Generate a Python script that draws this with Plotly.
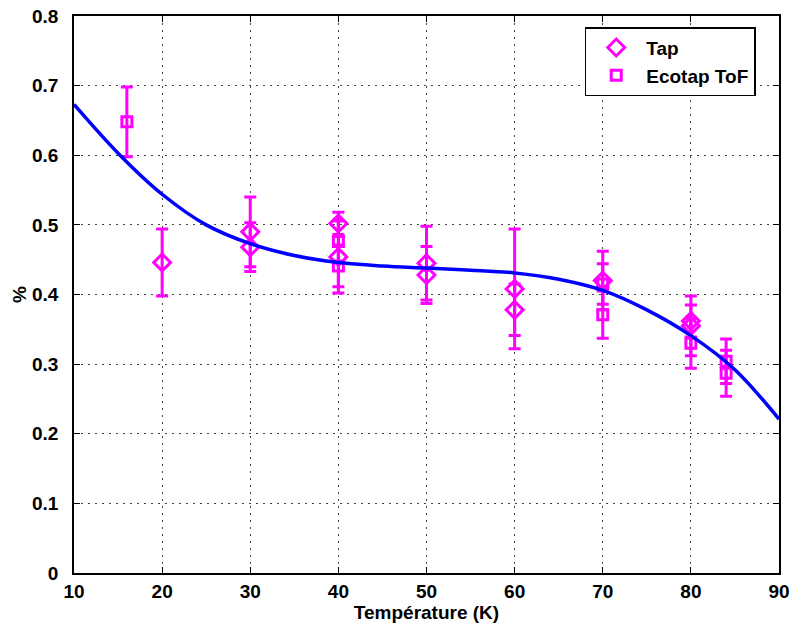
import plotly.graph_objects as go

# Tap (diamonds)
tap_x = [20, 30, 30, 40, 40, 50, 50, 60, 60, 70, 80, 80]
tap_y = [0.446, 0.490, 0.468, 0.502, 0.454, 0.445, 0.428, 0.408, 0.378, 0.420, 0.362, 0.355]
tap_err = [0.048, 0.050, 0.035, 0.016, 0.052, 0.053, 0.041, 0.086, 0.037, 0.042, 0.023, 0.043]

# Ecotap ToF (squares)
eco_x = [16, 40, 40, 70, 70, 80, 84, 84]
eco_y = [0.648, 0.476, 0.441, 0.415, 0.371, 0.330, 0.304, 0.287]
eco_err = [0.050, 0.030, 0.030, 0.029, 0.034, 0.036, 0.032, 0.033]

# fitted curve
fit_x = [10, 15, 20, 25, 30, 35, 40, 45, 50, 55, 60, 65, 70, 75, 80, 85, 90]
fit_y = [0.673, 0.603, 0.544, 0.500, 0.473, 0.456, 0.446, 0.441, 0.438, 0.435, 0.431, 0.422, 0.406, 0.378, 0.341, 0.292, 0.221]

x_ticks = [10, 20, 30, 40, 50, 60, 70, 80, 90]
y_ticks = [0, 0.1, 0.2, 0.3, 0.4, 0.5, 0.6, 0.7, 0.8]
y_labels = ["0", "0.1", "0.2", "0.3", "0.4", "0.5", "0.6", "0.7", "0.8"]

MAG = "#FF00FF"
TICKFONT = dict(family="Liberation Sans", size=19, color="black", weight="bold")
TITLEFONT = dict(family="Liberation Sans", size=19, color="black", weight="bold")

fig = go.Figure()
fig.add_trace(go.Scatter(
    x=tap_x, y=tap_y, mode="markers", name="Tap",
    marker=dict(symbol="diamond-open", size=13, color=MAG, line=dict(width=3, color=MAG)),
    error_y=dict(type="data", array=tap_err, color=MAG, thickness=3, width=6),
))
fig.add_trace(go.Scatter(
    x=eco_x, y=eco_y, mode="markers", name="Ecotap ToF",
    marker=dict(symbol="square-open", size=10, color=MAG, line=dict(width=3, color=MAG)),
    error_y=dict(type="data", array=eco_err, color=MAG, thickness=3, width=6),
))
fig.add_trace(go.Scatter(
    x=fit_x, y=fit_y, mode="lines", showlegend=False,
    line=dict(color="#0000FF", width=3.5, shape="spline", smoothing=1.0),
))

axis_common = dict(
    showline=True, linecolor="black", linewidth=1.5, mirror="allticks",
    ticks="inside", ticklen=6, tickwidth=1, tickcolor="black",
    showgrid=True, gridcolor="#444444", griddash="2px,5px", gridwidth=1,
    zeroline=False, tickfont=TICKFONT, automargin=False,
)

fig.update_xaxes(range=[10, 90], tickvals=x_ticks, ticklabelstandoff=0,
                 title=dict(text="Température (K)", font=TITLEFONT, standoff=2),
                 **axis_common)
fig.update_yaxes(range=[0, 0.8], tickvals=y_ticks, ticktext=y_labels,
                 ticklabelstandoff=10,
                 title=dict(text="%", font=TITLEFONT, standoff=0),
                 **axis_common)

fig.update_layout(
    width=792, height=628,
    margin=dict(l=74, r=13, t=16, b=55),
    plot_bgcolor="white", paper_bgcolor="white",
    legend=dict(x=0.967, y=0.98, xanchor="right", yanchor="top",
                bgcolor="white", bordercolor="black", borderwidth=1.5,
                itemwidth=50,
                font=dict(family="Liberation Sans", size=19, color="black", weight="bold")),
)

# remove the default 8px page margin so the figure sits at the window origin
fig.write_html("out.html",
               config={"displayModeBar": False},
               post_script="document.body.style.margin='0';document.body.style.overflow='hidden';")
